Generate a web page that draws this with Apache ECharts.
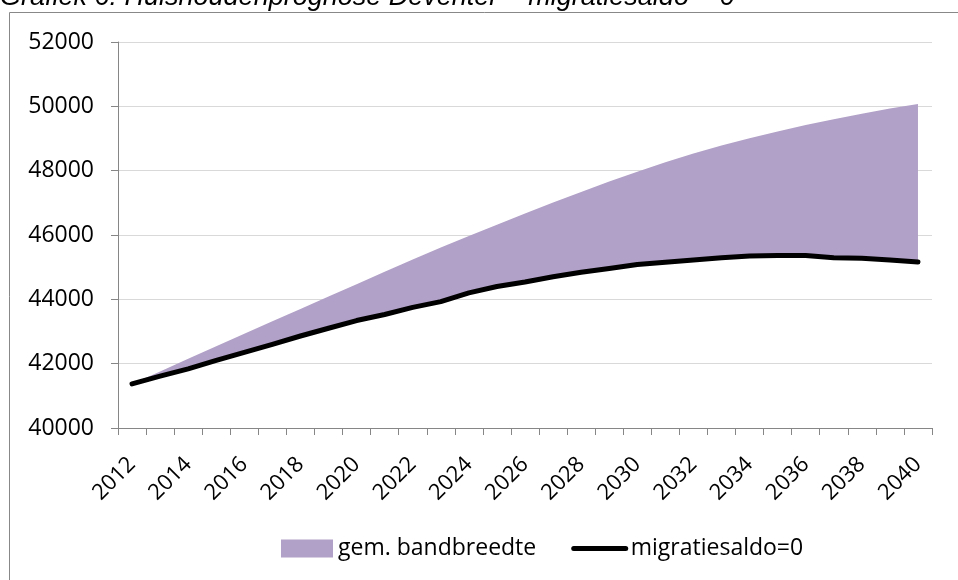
<!DOCTYPE html>
<html>
<head>
<meta charset="utf-8">
<title>Huishoudenprognose Deventer</title>
<script src="https://cdn.jsdelivr.net/npm/echarts@6/dist/echarts.min.js"></script>
<style>
  html, body { margin: 0; padding: 0; background: #fff; }
  #chart { width: 958px; height: 580px; }
</style>
</head>
<body>
<div id="chart"></div>
<script>
// jaren op de x-as
var years = ["2012", "2013", "2014", "2015", "2016", "2017", "2018", "2019", "2020", "2021",
  "2022", "2023", "2024", "2025", "2026", "2027", "2028", "2029", "2030", "2031",
  "2032", "2033", "2034", "2035", "2036", "2037", "2038", "2039", "2040"];

// bovenkant van de bandbreedte
var bandUpper = [41370, 41760, 42150, 42540, 42930, 43320, 43700, 44090, 44470, 44860,
  45240, 45610, 45970, 46320, 46670, 47010, 47340, 47660, 47970, 48260,
  48530, 48780, 49010, 49220, 49420, 49600, 49770, 49930, 50070];

// migratiesaldo = 0 (ook de onderkant van de band)
var migratie0 = [41370, 41610, 41840, 42100, 42350, 42600, 42860, 43100, 43340, 43530,
  43750, 43930, 44200, 44400, 44540, 44700, 44840, 44960, 45080, 45150,
  45220, 45290, 45350, 45360, 45360, 45290, 45280, 45220, 45160];

// y-as bereik
var yMin = 40000, yMax = 52000, yStep = 2000;

(function () {
  var myChart = echarts.init(document.getElementById("chart"));

  // breedte van de band = boven - onder (gestapeld op de onderlijn)
  var bandWidth = bandUpper.map(function (v, i) { return v - migratie0[i]; });

  var labelFont = "Open Sans";

  var option = {
    animation: false,
    // titel en kader als losse elementen
    graphic: [
      {
        type: "rect",
        shape: { x: 9.5, y: 12.5, width: 1000, height: 700 },
        style: { fill: "none", stroke: "#888", lineWidth: 1 },
        silent: true
      },
      {
        type: "text",
        left: 0,
        top: -16,
        style: {
          text: "Grafiek 6: Huishoudenprognose Deventer \u2013 migratiesaldo = 0",
          font: "italic 27px 'Liberation Sans'",
          fill: "#000"
        }
      }
    ],
    grid: {
      left: 118,
      right: 26,
      top: 42,
      bottom: 152
    },
    legend: {
      left: 281,
      top: 537,
      padding: 0,
      itemWidth: 52,
      itemHeight: 18,
      itemGap: 35,
      textStyle: { color: "#000", fontSize: 23, fontFamily: labelFont },
      data: [
        { name: "gem. bandbreedte", icon: "rect" },
        {
          name: "migratiesaldo=0",
          // alleen de lijn, geen bolletje
          itemStyle: { opacity: 0 },
          lineStyle: { width: 5, color: "#000", cap: "round" }
        }
      ]
    },
    xAxis: {
      type: "category",
      data: years,
      boundaryGap: true,
      axisLine: { lineStyle: { color: "#868686", width: 1 } },
      axisTick: { show: true, interval: 0, length: 7, lineStyle: { color: "#868686" } },
      axisLabel: {
        interval: 1,
        rotate: 45,
        margin: 33,
        color: "#000",
        fontSize: 22,
        fontFamily: labelFont
      },
      splitLine: { show: false }
    },
    yAxis: {
      type: "value",
      min: yMin,
      max: yMax,
      interval: yStep,
      axisLine: { show: true, lineStyle: { color: "#868686", width: 1 } },
      axisTick: { show: true, length: 7, lineStyle: { color: "#868686" } },
      axisLabel: {
        margin: 24,
        color: "#000",
        fontSize: 23,
        fontFamily: labelFont,
        formatter: function (v) { return String(v); }
      },
      splitLine: { lineStyle: { color: "#d9d9d9", width: 1 } }
    },
    series: [
      {
        // onzichtbare basis voor de stapeling
        name: "basis",
        type: "line",
        stack: "band",
        data: migratie0,
        symbol: "none",
        silent: true,
        lineStyle: { width: 0, opacity: 0 },
        itemStyle: { color: "transparent" }
      },
      {
        name: "gem. bandbreedte",
        type: "line",
        stack: "band",
        data: bandWidth,
        symbol: "none",
        color: "#b1a0c7",
        lineStyle: { width: 0 },
        areaStyle: { color: "#b1a0c7", opacity: 1 }
      },
      {
        name: "migratiesaldo=0",
        type: "line",
        data: migratie0,
        symbol: "none",
        color: "#000",
        lineStyle: { color: "#000", width: 5, cap: "round", join: "round" }
      }
    ]
  };

  myChart.setOption(option);

  window.addEventListener("resize", function () {
    myChart.resize();
  });
})();
</script>
</body>
</html>
